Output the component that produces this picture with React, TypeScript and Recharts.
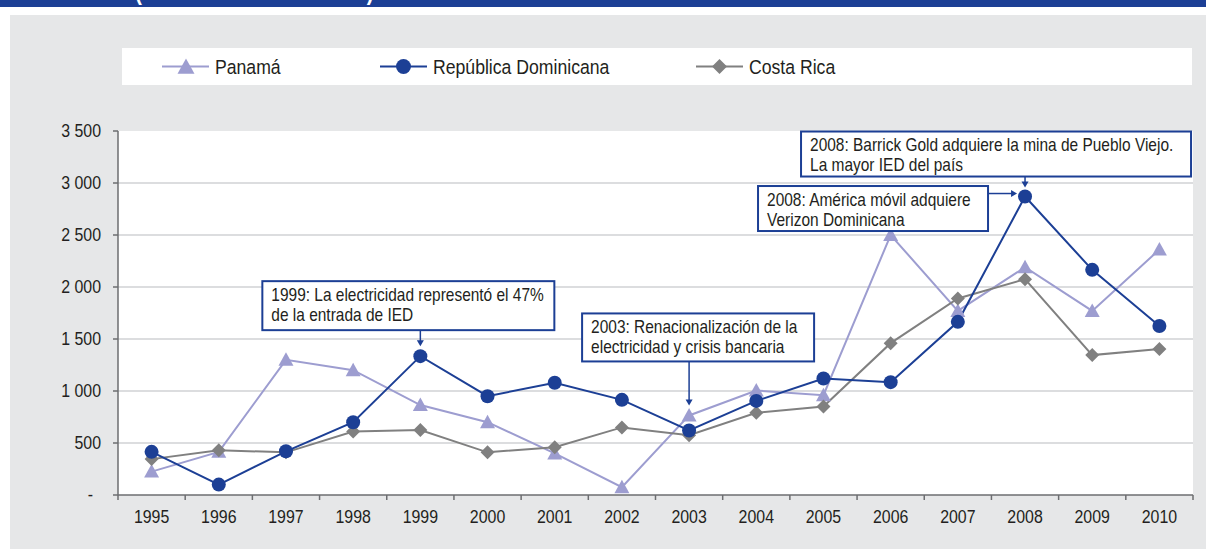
import React from "react";
import { LineChart, Line, XAxis, YAxis, CartesianGrid, ReferenceDot } from "recharts";

// Inversión extranjera directa, 1995-2010 (millones de dólares)
const years = [1995, 1996, 1997, 1998, 1999, 2000, 2001, 2002, 2003, 2004, 2005, 2006, 2007, 2008, 2009, 2010];
const panama = [225, 415, 1300, 1200, 865, 700, 400, 75, 765, 1005, 960, 2500, 1770, 2190, 1770, 2360];
const repDom = [415, 100, 420, 700, 1335, 950, 1080, 915, 620, 905, 1120, 1085, 1665, 2870, 2165, 1625];
const costaRica = [345, 430, 410, 610, 625, 410, 460, 650, 575, 790, 850, 1460, 1890, 2075, 1345, 1405];
const yTicks = [0, 500, 1000, 1500, 2000, 2500, 3000, 3500];
const gridValues = [500, 1000, 1500, 2000, 2500, 3000];

const W = 1206;
const H = 549;
const PLOT = { left: 118, right: 1193, top: 131, bottom: 495 };
const FONT = '"Liberation Sans", Arial, sans-serif';
const SX = 0.86; // the source uses a condensed face; squeeze a regular one

const C_PAN = "#9d9dd0";
const C_RD = "#1c3f95";
const C_CR = "#808080";
const AXIS = "#6d6e71";
const TEXT = "#231f20";

const data = years.map((year, i) => ({
  year,
  panama: panama[i],
  repDom: repDom[i],
  costaRica: costaRica[i],
}));

const fmt = (v: number) => (v === 0 ? "-\u2002" : String(v).replace(/\B(?=(\d{3})+(?!\d))/g, " "));

// condensed svg text
const CText = ({ x, y, anchor = "start", size = 18, children }: any) => (
  <text
    transform={`translate(${x} ${y}) scale(${SX} 1)`}
    textAnchor={anchor}
    dominantBaseline="central"
    fill={TEXT}
    fontSize={size}
    fontFamily={FONT}
  >
    {children}
  </text>
);

// markers
const Triangle = ({ cx, cy, s = 7.5, fill }: any) => (
  <polygon points={`${cx},${cy - s} ${cx + s},${cy + s * 0.8} ${cx - s},${cy + s * 0.8}`} fill={fill} />
);
const Diamond = ({ cx, cy, s = 7, fill }: any) => (
  <polygon points={`${cx},${cy - s} ${cx + s},${cy} ${cx},${cy + s} ${cx - s},${cy}`} fill={fill} />
);

const triDot = (p: any) =>
  p.cx == null ? <g key={`t${p.index}`} /> : <Triangle key={`t${p.index}`} cx={p.cx} cy={p.cy} fill={C_PAN} />;
const circDot = (p: any) =>
  p.cx == null ? <g key={`c${p.index}`} /> : <circle key={`c${p.index}`} cx={p.cx} cy={p.cy} r={7} fill={C_RD} />;
const diaDot = (p: any) =>
  p.cx == null ? <g key={`d${p.index}`} /> : <Diamond key={`d${p.index}`} cx={p.cx} cy={p.cy} fill={C_CR} />;

// x ticks: label at the category centre, tick marks on the category borders
const YearTick = (p: any) => {
  const bw = (PLOT.right - PLOT.left) / years.length;
  const last = p.index === years.length - 1;
  return (
    <g>
      <line x1={p.x - bw / 2} x2={p.x - bw / 2} y1={PLOT.bottom} y2={PLOT.bottom + 5} stroke={AXIS} strokeWidth={1.5} />
      {last && <line x1={p.x + bw / 2} x2={p.x + bw / 2} y1={PLOT.bottom} y2={PLOT.bottom + 5} stroke={AXIS} strokeWidth={1.5} />}
      <CText x={p.x} y={PLOT.bottom + 22} anchor="middle" size={18.5}>
        {p.payload.value}
      </CText>
    </g>
  );
};

const ValueTick = (p: any) => (
  <CText x={p.x} y={p.y} anchor="end" size={18.5}>
    {fmt(p.payload.value)}
  </CText>
);

type Note = {
  year: number;
  value: number;
  lines: string[];
  dx: number;
  dy: number;
  w: number;
  h: number;
  arrow: "down" | "right";
  tip: number;
  ay?: number;
};

const at = (arr: number[], y: number) => arr[years.indexOf(y)];

const notes: Note[] = [
  {
    year: 1999, value: at(repDom, 1999),
    lines: ["1999: La electricidad representó el 47%", "de la entrada de IED"],
    dx: -158, dy: -75, w: 292, h: 49, arrow: "down", tip: -10,
  },
  {
    year: 2003, value: at(panama, 2003),
    lines: ["2003: Renacionalización de la", "electricidad y crisis bancaria"],
    dx: -107, dy: -102, w: 232, h: 48, arrow: "down", tip: -10,
  },
  {
    year: 2008, value: at(repDom, 2008),
    lines: ["2008: América móvil adquiere", "Verizon Dominicana"],
    dx: -267, dy: -10.5, w: 230, h: 45, arrow: "right", tip: -8, ay: -3,
  },
  {
    year: 2008, value: at(repDom, 2008),
    lines: ["2008: Barrick Gold adquiere la mina de Pueblo Viejo.", "La mayor IED del país"],
    dx: -224, dy: -65, w: 390, h: 45, arrow: "down", tip: -9,
  },
];

const Callout = ({ cx, cy, note }: { cx: number; cy: number; note: Note }) => {
  const bx = cx + note.dx;
  const by = cy + note.dy;
  let arrow;
  if (note.arrow === "down") {
    const ty = cy + note.tip;
    arrow = (
      <g>
        <line x1={cx} x2={cx} y1={by + note.h} y2={ty - 5} stroke={C_RD} strokeWidth={1.5} />
        <polygon points={`${cx},${ty} ${cx - 3.5},${ty - 6} ${cx + 3.5},${ty - 6}`} fill={C_RD} />
      </g>
    );
  } else {
    const ay = cy + (note.ay ?? 0);
    const tx = cx + note.tip;
    arrow = (
      <g>
        <line x1={bx + note.w} x2={tx - 5} y1={ay} y2={ay} stroke={C_RD} strokeWidth={1.5} />
        <polygon points={`${tx},${ay} ${tx - 6},${ay - 3.5} ${tx - 6},${ay + 3.5}`} fill={C_RD} />
      </g>
    );
  }
  return (
    <g>
      {arrow}
      <rect x={bx} y={by} width={note.w} height={note.h} fill="#fff" stroke={C_RD} strokeWidth={2} />
      {note.lines.map((l, i) => (
        <CText key={i} x={bx + 9} y={by + 14 + i * 20}>
          {l}
        </CText>
      ))}
    </g>
  );
};

const legendItems = [
  { name: "Panamá", color: C_PAN, marker: "triangle", x: 40 },
  { name: "República Dominicana", color: C_RD, marker: "circle", x: 258 },
  { name: "Costa Rica", color: C_CR, marker: "diamond", x: 574 },
];

const Legend = () => (
  <div style={{ position: "absolute", left: 122, top: 48, width: 1070, height: 37, background: "#fff" }}>
    {legendItems.map((it) => (
      <div key={it.name} style={{ position: "absolute", left: it.x, top: 0, height: 37, display: "flex", alignItems: "center" }}>
        <svg width={47} height={37}>
          <line x1={0} x2={47} y1={18.5} y2={18.5} stroke={it.color} strokeWidth={2} />
          {it.marker === "triangle" && <Triangle cx={24} cy={19} s={8.5} fill={it.color} />}
          {it.marker === "circle" && <circle cx={23.5} cy={18.5} r={7.5} fill={it.color} />}
          {it.marker === "diamond" && <Diamond cx={23.5} cy={18.5} s={7.5} fill={it.color} />}
        </svg>
        <span
          style={{
            marginLeft: 6,
            fontSize: 20.5,
            color: TEXT,
            fontFamily: FONT,
            whiteSpace: "nowrap",
            display: "inline-block",
            transform: `scaleX(${SX})`,
            transformOrigin: "left center",
          }}
        >
          {it.name}
        </span>
      </div>
    ))}
  </div>
);

export default function App() {
  return (
    <div style={{ position: "absolute", left: 0, top: 0, width: W, height: H, background: "#fff", overflow: "hidden", fontFamily: FONT }}>
      <div style={{ position: "absolute", left: 0, top: 0, width: W, height: 7, background: C_RD, overflow: "hidden" }}>
        <div
          style={{
            position: "absolute",
            left: 135,
            top: -20,
            fontSize: 24,
            lineHeight: "24px",
            fontWeight: 700,
            color: "#fff",
            whiteSpace: "nowrap",
            transform: `scaleX(${SX})`,
            transformOrigin: "left center",
          }}
        >
          (En millones de dólares)
        </div>
      </div>
      <div style={{ position: "absolute", left: 10, top: 15, width: W - 10, height: H - 15, background: "#e6e7e8" }} />
      <Legend />
      <LineChart
        width={W}
        height={H}
        data={data}
        margin={{ top: PLOT.top, right: W - PLOT.right, bottom: 0, left: 0 }}
        style={{ position: "absolute", left: 0, top: 0 }}
      >
        <CartesianGrid vertical={false} horizontalValues={gridValues} stroke="#d1d2d4" strokeWidth={1.5} fill="#fff" />
        <XAxis
          dataKey="year"
          type="number"
          domain={[1994.5, 2010.5]}
          ticks={years}
          interval={0}
          height={H - PLOT.bottom}
          axisLine={{ stroke: AXIS, strokeWidth: 1.5 }}
          tickLine={false}
          tick={YearTick}
        />
        <YAxis
          type="number"
          domain={[0, 3500]}
          ticks={yTicks}
          interval={0}
          width={PLOT.left}
          axisLine={{ stroke: AXIS, strokeWidth: 1.5 }}
          tickLine={{ stroke: AXIS, strokeWidth: 1.5 }}
          tickSize={5}
          tickMargin={12}
          tick={ValueTick}
        />
        <Line dataKey="panama" name="Panamá" stroke={C_PAN} strokeWidth={2} dot={triDot} activeDot={false} isAnimationActive={false} />
        <Line dataKey="costaRica" name="Costa Rica" stroke={C_CR} strokeWidth={2} dot={diaDot} activeDot={false} isAnimationActive={false} />
        <Line dataKey="repDom" name="República Dominicana" stroke={C_RD} strokeWidth={2} dot={circDot} activeDot={false} isAnimationActive={false} />
        {notes.map((n, i) => (
          <ReferenceDot
            key={i}
            x={n.year}
            y={n.value}
            ifOverflow="visible"
            shape={(p: any) => <Callout cx={p.cx} cy={p.cy} note={n} />}
          />
        ))}
      </LineChart>
    </div>
  );
}
